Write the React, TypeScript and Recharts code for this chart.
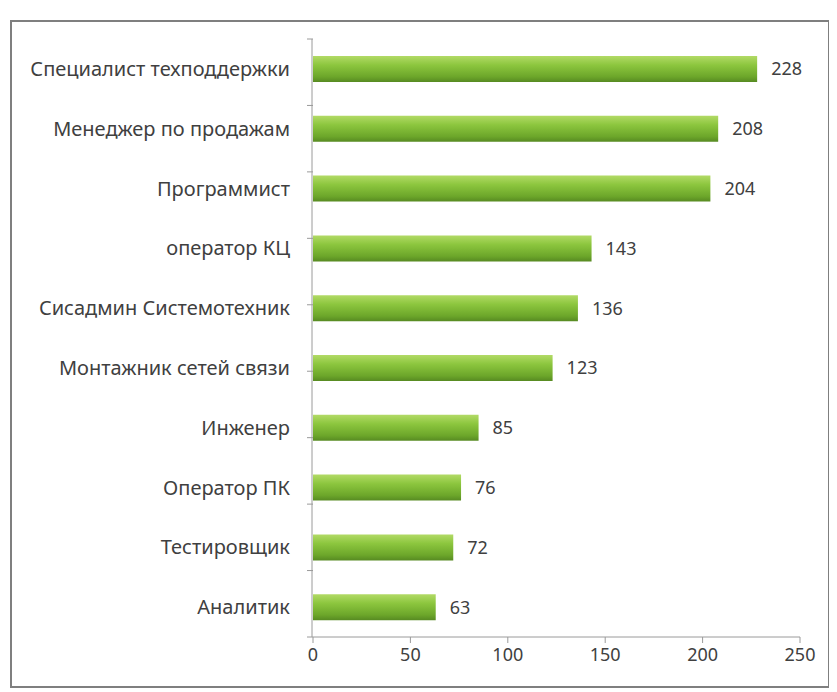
import { BarChart, Bar, XAxis, YAxis, LabelList } from 'recharts'

const professions = [
  'Специалист техподдержки',
  'Менеджер по продажам',
  'Программист',
  'оператор КЦ',
  'Сисадмин Системотехник',
  'Монтажник сетей связи',
  'Инженер',
  'Оператор ПК',
  'Тестировщик',
  'Аналитик',
]
const counts = [228, 208, 204, 143, 136, 123, 85, 76, 72, 63]
const xTicks = [0, 50, 100, 150, 200, 250]
const bandTicks = [0, 1, 2, 3, 4, 5, 6, 7, 8, 9, 10]

const data = professions.map((name, i) => ({ name, value: counts[i] }))

const textColor = '#404040'
const axisColor = '#9a9a9a'

export default function App() {
  return (
    <div
      style={{
        marginLeft: 2,
        marginTop: 12,
        width: 820,
        height: 668,
        border: '2px solid #7f7f7f',
        boxSizing: 'border-box',
        fontFamily: '"Noto Sans", sans-serif',
      }}
    >
      <BarChart
        width={816}
        height={664}
        data={data}
        layout="vertical"
        margin={{ top: 17, right: 28, bottom: 18, left: 0 }}
      >
        <defs>
          <linearGradient id="barGreen" x1="0" y1="0" x2="0" y2="1">
            <stop offset="0%" stopColor="#b2da66" />
            <stop offset="35%" stopColor="#8cc63e" />
            <stop offset="80%" stopColor="#6ca62a" />
            <stop offset="100%" stopColor="#578a22" />
          </linearGradient>
        </defs>
        <XAxis
          type="number"
          domain={[0, 250]}
          ticks={xTicks}
          stroke={axisColor}
          tickSize={6}
          tickMargin={5}
          tick={{ fill: textColor, fontSize: 18 }}
          height={31}
        />
        <YAxis
          yAxisId="cat"
          type="category"
          dataKey="name"
          width={300}
          stroke={axisColor}
          tickLine={false}
          tickSize={0}
          tickMargin={22}
          tick={{ fill: textColor, fontSize: 20 }}
        />
        <YAxis
          yAxisId="bands"
          type="number"
          domain={[0, 10]}
          ticks={bandTicks}
          width={1}
          axisLine={false}
          tickSize={6}
          stroke={axisColor}
          tick={{ fontSize: 1, fill: 'none' }}
          tickFormatter={() => ''}
        />
        <Bar yAxisId="cat" dataKey="value" fill="url(#barGreen)" barSize={26} isAnimationActive={false}>
          <LabelList dataKey="value" position="right" offset={14} fill={textColor} fontSize={18} />
        </Bar>
      </BarChart>
    </div>
  )
}
